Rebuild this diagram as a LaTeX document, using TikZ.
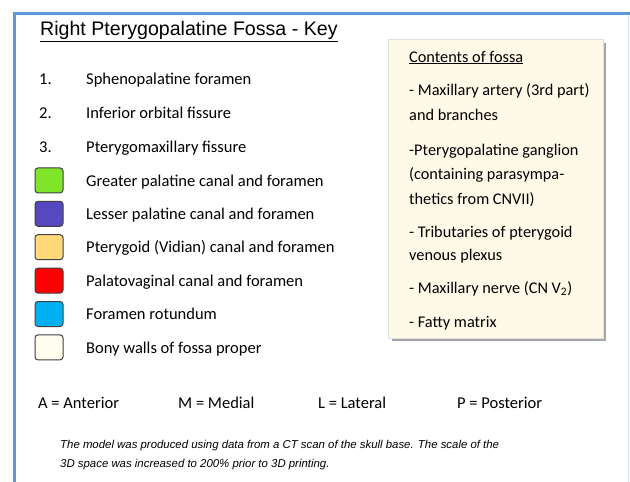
\documentclass[tikz,border=0pt]{standalone}
\usepackage{fontspec}
\setmainfont{Carlito}
\newfontfamily\arialfont{Liberation Sans}
\usetikzlibrary{positioning}
\definecolor{frameblue}{RGB}{91,155,213}
\definecolor{framelight}{RGB}{218,229,242}
\definecolor{keygreen}{RGB}{126,229,42}
\definecolor{keypurple}{RGB}{86,72,190}
\definecolor{keyyellow}{RGB}{255,217,122}
\definecolor{keyred}{RGB}{255,0,0}
\definecolor{keycyan}{RGB}{0,176,240}
\definecolor{keycream}{RGB}{255,253,238}
\definecolor{boxcream}{RGB}{255,250,232}

\begin{document}
\begin{tikzpicture}[x=1pt, y=-1pt,
  keybox/.style={draw=black!75, line width=1pt, rounded corners=3pt, minimum width=28pt, minimum height=25pt, inner sep=0pt},
  keytext/.style={anchor=base west, inner sep=0pt, font=\fontsize{16.5}{18}\selectfont},
  boxtext/.style={anchor=base west, inner sep=0pt, font=\fontsize{16.3}{18}\selectfont},
  notetext/.style={anchor=base west, inner sep=0pt, font=\arialfont\itshape\fontsize{11.4}{13}\selectfont}]
  \useasboundingbox (0,0) rectangle (630,482);
  \fill[white] (0,0) rectangle (630,482);

  % Frame
  \draw[framelight, line width=1pt] (628,14) -- (628,482);
  \draw[frameblue, line width=3pt] (14,482) -- (14,13) -- (630,13);

  % Title
  \node[anchor=base west, inner sep=0pt, font=\arialfont\fontsize{19.6}{21}\selectfont] (title) at (40,35.5) {\underline{Right Pterygopalatine Fossa - Key}};

  % Numbered items
  \node[keytext] (n1) at (39,84) {1.};
  \node[keytext] (n2) at (39,118) {2.};
  \node[keytext] (n3) at (39,152) {3.};
  \node[keytext] (l1) at (86,84) {Sphenopalatine foramen};
  \node[keytext] (l2) at (86,118) {Inferior orbital fissure};
  \node[keytext] (l3) at (86,152) {Pterygomaxillary fissure};

  % Colour keys
  \foreach \c/\txt [count=\i] in {keygreen/Greater palatine canal and foramen,
      keypurple/Lesser palatine canal and foramen,
      keyyellow/Pterygoid (Vidian) canal and foramen,
      keyred/Palatovaginal canal and foramen,
      keycyan/Foramen rotundum,
      keycream/Bony walls of fossa proper} {
    \node[keybox, fill=\c] (k\i) at (49,147+33.4*\i) {};
    \node[keytext] (t\i) at (86,152.6+33.4*\i) {\txt};
  }

  % Contents box
  \fill[black!35] (392,43) rectangle (606,341);
  \node[draw=black!12, fill=boxcream, minimum width=215pt, minimum height=299pt, inner sep=0pt, anchor=north west] (box) at (388,39) {};
  \node[boxtext] (c0) at (409,62) {\underline{Contents of fossa}};
  \node[boxtext] (c1) at (409,95) {- Maxillary artery (3rd part)};
  \node[boxtext] (c2) at (409,120) {and branches};
  \node[boxtext] (c3) at (409,155) {-Pterygopalatine ganglion};
  \node[boxtext] (c4) at (409,179) {(containing parasympa-};
  \node[boxtext] (c5) at (409,204) {thetics from CNVII)};
  \node[boxtext] (c6) at (409,237) {- Tributaries of pterygoid};
  \node[boxtext] (c7) at (409,260) {venous plexus};
  \node[boxtext] (c8) at (409,293) {- Maxillary nerve (CN V\textsubscript{2})};
  \node[boxtext] (c9) at (409,327) {- Fatty matrix};

  % Directions
  \node[keytext] (dA) at (38,408) {A = Anterior};
  \node[keytext] (dM) at (178,408) {M = Medial};
  \node[keytext] (dL) at (318,408) {L = Lateral};
  \node[keytext] (dP) at (457,408) {P = Posterior};

  % Note
  \node[notetext] (note1) at (60,448) {The model was produced using data from a CT scan of the skull base. The scale of the};
  \node[notetext] (note2) at (60,467) {3D space was increased to 200\% prior to 3D printing.};
\end{tikzpicture}
\end{document}
